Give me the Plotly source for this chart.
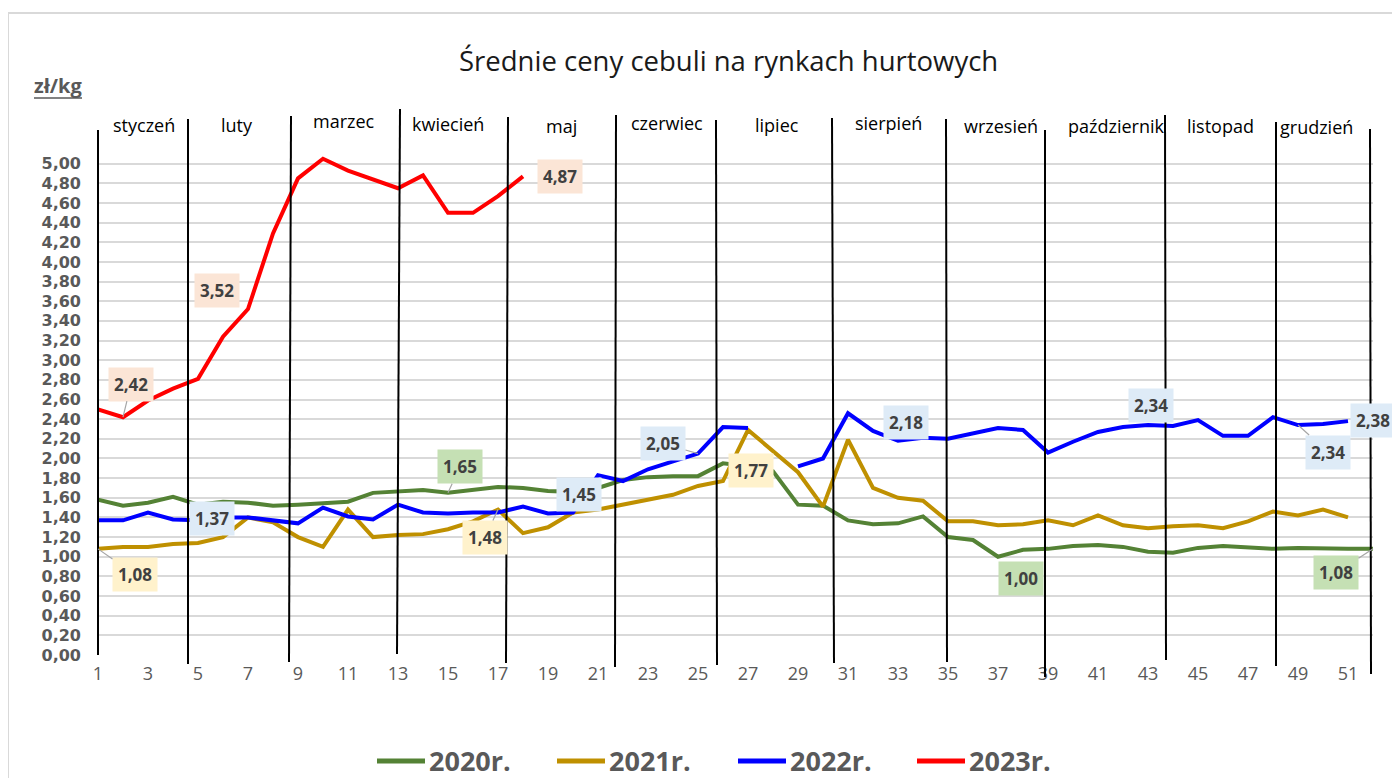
import plotly.graph_objects as go

# ---------------- data ----------------
weeks = list(range(1, 53))

series_names = ["2020r.", "2021r.", "2022r.", "2023r."]

y2020 = [1.58, 1.52, 1.55, 1.61, 1.53, 1.56, 1.55, 1.52, 1.53, 1.55,
         1.56, 1.65, 1.66, 1.68, 1.65, 1.68, 1.71, 1.70, 1.67, 1.66,
         1.70, 1.78, 1.81, 1.82, 1.82, 1.95, 1.92, 1.87, 1.53, 1.52,
         1.37, 1.33, 1.34, 1.41, 1.20, 1.17, 1.00, 1.07, 1.08, 1.11,
         1.12, 1.10, 1.05, 1.04, 1.09, 1.11, 1.10, 1.08, 1.09, 1.08,
         1.08, 1.08]

y2021 = [1.08, 1.10, 1.10, 1.13, 1.14, 1.20, 1.40, 1.35, 1.20, 1.10,
         1.48, 1.20, 1.22, 1.23, 1.28, 1.36, 1.48, 1.24, 1.30, 1.45,
         1.48, 1.53, 1.58, 1.63, 1.72, 1.77, 2.29, 2.08, 1.86, 1.51,
         2.19, 1.70, 1.60, 1.57, 1.36, 1.36, 1.32, 1.33, 1.37, 1.32,
         1.42, 1.32, 1.29, 1.31, 1.32, 1.29, 1.36, 1.46, 1.42, 1.48,
         1.40, None]

y2022 = [1.37, 1.37, 1.45, 1.38, 1.37, 1.40, 1.40, 1.37, 1.34, 1.50,
         1.41, 1.38, 1.53, 1.45, 1.44, 1.45, 1.45, 1.51, 1.44, 1.45,
         1.83, 1.77, 1.89, 1.97, 2.05, 2.32, 2.31, None, 1.92, 2.00,
         2.46, 2.28, 2.18, 2.21, 2.20, 2.25, 2.31, 2.29, 2.06, 2.17,
         2.27, 2.32, 2.34, 2.33, 2.39, 2.23, 2.23, 2.42, 2.34, 2.35,
         2.38, None]

y2023 = [2.50, 2.42, 2.59, 2.71, 2.81, 3.24, 3.52, 4.29, 4.85, 5.05,
         4.93, 4.84, 4.75, 4.88, 4.50, 4.50, 4.67, 4.87]

months = ["styczeń", "luty", "marzec", "kwiecień", "maj", "czerwiec",
          "lipiec", "sierpień", "wrzesień", "październik", "listopad", "grudzień"]

x_ticks = list(range(1, 52, 2))
y_ticks = [round(i * 0.2, 2) for i in range(26)]

# labelled points: (series index, week)
labelled = [(3, 2), (3, 7), (3, 18), (1, 1), (2, 5), (0, 15), (1, 17),
            (2, 20), (2, 25), (1, 26), (2, 33), (0, 37), (2, 43), (2, 49),
            (2, 51), (0, 52)]

# ---------------- styling ----------------
colors = ["#548235", "#BF9000", "#0000FF", "#FF0000"]
label_bg = ["#C5E0B4", "#FFF2CC", "#DEEBF7", "#FBE5D6"]
FONT = "Open Sans"
GRAY = "#595959"

# page pixel geometry of the plot area (the page has an 8px body margin)
OFF = 8
L, R, T, B = 98, 1373, 144, 655
W, H = 1400 - OFF, 778 - OFF


def px(x):
    return (x - L) / (R - L)


def py(y):
    return (B - y) / (B - T)


all_series = [y2020, y2021, y2022, y2023]

fig = go.Figure()
for name, ys, c in zip(series_names, all_series, colors):
    fig.add_trace(go.Scatter(
        x=weeks[:len(ys)], y=ys, mode="lines", name=name,
        line=dict(color=c, width=4), connectgaps=False,
        showlegend=False, hoverinfo="skip"))

annotations = []
shapes = []

# data labels: pixel offsets of the label centre from the point, leader flag
label_layout = {
    (3, 2): (8, -33, True), (3, 7): (-31, -19, False), (3, 18): (37, 0, False),
    (1, 1): (37, 26, True), (2, 5): (14, -2, False), (0, 15): (12, -26, True),
    (1, 17): (-13, 28, True), (2, 20): (6, -18, False), (2, 25): (-35, -10, True),
    (1, 26): (28, -11, False), (2, 33): (8, -18, False), (0, 37): (23, 22, False),
    (2, 43): (3, -20, False), (2, 49): (30, 27, True), (2, 51): (25, -1, False),
    (0, 52): (-37, 24, True),
}
for si, wk in labelled:
    v = all_series[si][wk - 1]
    dx, dy, lead = label_layout[(si, wk)]
    txt = f"{v:.2f}".replace(".", ",")
    common = dict(x=wk, y=v, xref="x", yref="y", text=txt,
                  font=dict(family=FONT, size=17, color="#404040", weight="bold"),
                  bgcolor=label_bg[si], borderpad=5)
    if lead:
        annotations.append(dict(**common, showarrow=True, ax=dx, ay=dy,
                                arrowhead=0, arrowwidth=1.2, arrowcolor="#A6A6A6",
                                standoff=0))
    else:
        annotations.append(dict(**common, showarrow=False, xshift=dx, yshift=-dy))

# month separator lines (page pixels: top x, top y, bottom x, bottom y)
sep_lines = [(98, 130, 98, 655), (188, 119, 188, 664), (291, 116, 289, 662),
             (400, 109, 397, 654), (508, 117, 506, 663), (616, 115, 615, 667),
             (716, 120, 717, 665), (832, 118, 834, 663), (946, 119, 947, 662),
             (1045, 130, 1045, 677), (1165, 115, 1166, 660), (1276, 122, 1276, 666),
             (1370, 129, 1371, 674)]
for x0, y0, x1, y1 in sep_lines:
    shapes.append(dict(type="line", xref="paper", yref="paper",
                       x0=px(x0), y0=py(y0), x1=px(x1), y1=py(y1),
                       line=dict(color="#000000", width=2), layer="above"))

# month names
month_pos = [(144, 125), (237, 125), (344, 121), (448, 124), (561, 126), (667, 123),
             (777, 125), (888, 123), (1001, 126), (1116, 126), (1220, 126), (1316, 127)]
for m, (x, y) in zip(months, month_pos):
    annotations.append(dict(x=px(x), y=py(y), xref="paper", yref="paper", text=m,
                            showarrow=False, xanchor="center", yanchor="middle",
                            font=dict(family=FONT, size=18, color="#000000")))

# title
annotations.append(dict(x=px(728), y=py(60), xref="paper", yref="paper",
                        text="Średnie ceny cebuli na rynkach hurtowych", showarrow=False,
                        xanchor="center", yanchor="middle",
                        font=dict(family=FONT, size=27.5, color="#1a1a1a")))
# unit
annotations.append(dict(x=px(32), y=py(86), xref="paper", yref="paper",
                        text="<b>zł/kg</b>", showarrow=False,
                        xanchor="left", yanchor="middle",
                        font=dict(family=FONT, size=20, color=GRAY)))
shapes.append(dict(type="line", xref="paper", yref="paper",
                   x0=px(34), x1=px(82), y0=py(98), y1=py(98),
                   line=dict(color=GRAY, width=1.5)))

# outer border of the chart area
shapes.append(dict(type="line", xref="paper", yref="paper",
                   x0=px(8), x1=px(1400), y0=py(13), y1=py(13),
                   line=dict(color="#D9D9D9", width=2)))
shapes.append(dict(type="line", xref="paper", yref="paper",
                   x0=px(8), x1=px(8), y0=py(13), y1=py(778),
                   line=dict(color="#D9D9D9", width=2)))

# manual legend
leg_x = [377, 557, 738, 917]
leg_y = 761
for name, c, x in zip(series_names, colors, leg_x):
    shapes.append(dict(type="line", xref="paper", yref="paper",
                       x0=px(x), x1=px(x + 48), y0=py(leg_y), y1=py(leg_y),
                       line=dict(color=c, width=5)))
    annotations.append(dict(x=px(x + 50), y=py(leg_y), xref="paper", yref="paper",
                            text=name, showarrow=False, xanchor="left", yanchor="middle",
                            font=dict(family=FONT, size=27, color=GRAY, weight="bold")))

fig.update_layout(
    width=W, height=H,
    margin=dict(l=L - OFF, r=W - (R - OFF), t=T - OFF, b=H - (B - OFF), pad=0),
    paper_bgcolor="white", plot_bgcolor="white",
    showlegend=False,
    annotations=annotations, shapes=shapes,
    xaxis=dict(range=[1, 52], tickvals=x_ticks, ticktext=[str(t) for t in x_ticks],
               showgrid=False, zeroline=False, showline=False, ticks="",
               ticklabelstandoff=6,
               tickfont=dict(family=FONT, size=18, color=GRAY)),
    yaxis=dict(range=[0, 5.2], tickvals=y_ticks,
               ticktext=[f"{t:.2f}".replace(".", ",") for t in y_ticks],
               showgrid=True, gridcolor="#D9D9D9", gridwidth=2,
               zeroline=False, showline=False, ticks="",
               ticklabelstandoff=16,
               tickfont=dict(family="DejaVu Sans", size=16, color=GRAY, weight="bold")),
)

fig.write_html("out.html")
